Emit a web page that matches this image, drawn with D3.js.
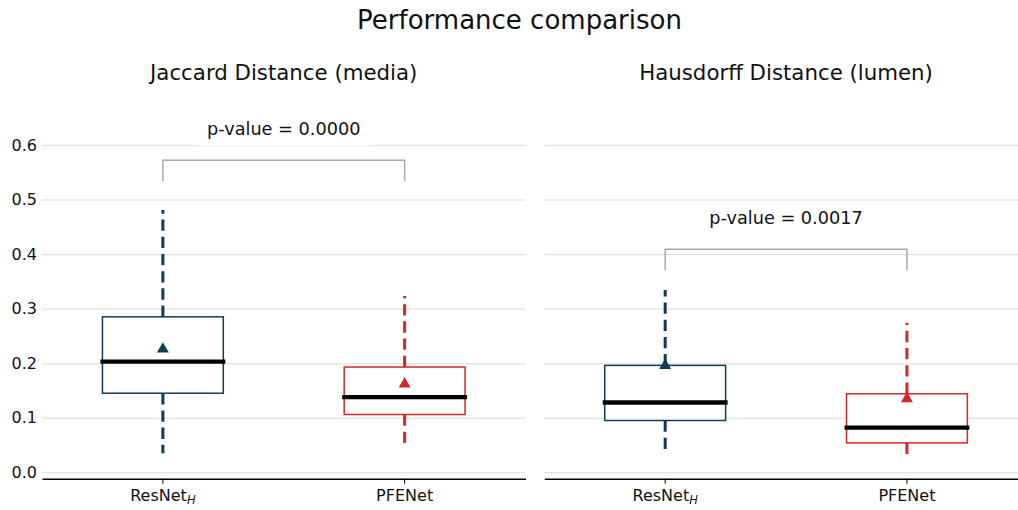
<!DOCTYPE html>
<html>
<head>
<meta charset="utf-8">
<title>Performance comparison</title>
<style>
body { margin: 0; background: #fff; }
text { font-family: "DejaVu Sans", sans-serif; }
.grid line { stroke: #e6e6e6; stroke-width: 1.5; }
.grid path { display: none; }
</style>
</head>
<body>
<script src="https://cdn.jsdelivr.net/npm/d3@7"></script>
<script>

// data
var categories = ["ResNet", "PFENet"];
var catSub = ["H", ""];
var panelTitles = ["Jaccard Distance (media)", "Hausdorff Distance (lumen)"];
var pValues = ["0.0000", "0.0017"];
var yTicks = [0.0, 0.1, 0.2, 0.3, 0.4, 0.5, 0.6];
var colors = ["#0e3b56", "#d62728"];

var jaccardLow = [0.035, 0.053];
var jaccardQ1 = [0.145, 0.106];
var jaccardMedian = [0.203, 0.138];
var jaccardQ3 = [0.285, 0.193];
var jaccardHigh = [0.481, 0.323];
var jaccardMean = [0.229, 0.165];

var hausdorffLow = [0.041, 0.033];
var hausdorffQ1 = [0.095, 0.054];
var hausdorffMedian = [0.128, 0.082];
var hausdorffQ3 = [0.196, 0.144];
var hausdorffHigh = [0.334, 0.274];
var hausdorffMean = [0.199, 0.138];

var bracketLevels = [0.572, 0.409]; // y of the significance bracket

function makeBoxes(low, q1, med, q3, high, mean) {
  return categories.map(function(c, i) {
    return {cat: c, low: low[i], q1: q1[i], med: med[i], q3: q3[i], high: high[i], mean: mean[i], color: colors[i]};
  });
}
var panels = [
  makeBoxes(jaccardLow, jaccardQ1, jaccardMedian, jaccardQ3, jaccardHigh, jaccardMean),
  makeBoxes(hausdorffLow, hausdorffQ1, hausdorffMedian, hausdorffQ3, hausdorffHigh, hausdorffMean)
];

var w = 1018, h = 510;
var panelX = [42, 544.3]; // left edge of each axes
var pw = 483.5;           // axes width

var y = d3.scaleLinear().domain([-0.0117, 0.6]).range([478.7, 145]);

var svg = d3.select("body").append("svg").attr("width", w).attr("height", h);

svg.append("text")
  .attr("x", 519.5).attr("y", 28.5)
  .attr("text-anchor", "middle")
  .attr("font-size", "26px")
  .attr("fill", "#111")
  .text("Performance comparison");

panels.forEach(function(boxes, p) {
  var g = svg.append("g").attr("transform", "translate(" + panelX[p] + ",0)");
  var x = d3.scaleBand().domain(categories).range([0, pw]).paddingInner(0).paddingOuter(0);
  var bw = x.bandwidth() * 0.5;
  var cx = function(d) { return x(d) + x.bandwidth() / 2; };

  // panel title
  g.append("text")
    .attr("x", pw / 2).attr("y", 80)
    .attr("text-anchor", "middle")
    .attr("font-size", "21.3px")
    .attr("fill", "#111")
    .text(panelTitles[p]);

  // horizontal grid
  g.append("g").attr("class", "grid")
    .call(d3.axisLeft(y).tickValues(yTicks).tickSize(-pw).tickFormat(""));

  // y labels only on the first panel
  if (p == 0) {
    var ya = g.append("g")
      .call(d3.axisLeft(y).tickValues(yTicks).tickSize(0).tickPadding(5).tickFormat(d3.format(".1f")));
    ya.select(".domain").remove();
    ya.selectAll("text").attr("font-size", "16px").attr("fill", "#111").attr("font-family", "DejaVu Sans");
  }

  // bottom axis
  var xa = g.append("g").attr("transform", "translate(0," + y.range()[0] + ")")
    .call(d3.axisBottom(x).tickSizeInner(5).tickSizeOuter(0).tickPadding(6));
  xa.select(".domain").attr("stroke", "#000").attr("stroke-width", 1.5);
  xa.selectAll(".tick line").attr("stroke", "#000").attr("stroke-width", 1);
  xa.selectAll("text").attr("font-size", "16px").attr("fill", "#111").attr("font-family", "DejaVu Sans")
    .each(function(d, i) {
      var t = d3.select(this);
      t.text(null);
      t.append("tspan").text(d);
      if (catSub[i]) {
        t.append("tspan").attr("font-size", "11.5px").attr("font-style", "italic").attr("dy", "0.3em").text(catSub[i]);
      }
    });

  // p-value bracket and label
  var by = y(bracketLevels[p]);
  var x0 = cx(categories[0]), x1 = cx(categories[1]);
  var label = g.append("text")
    .attr("x", (x0 + x1) / 2).attr("y", by - 24.8)
    .attr("text-anchor", "middle")
    .attr("font-size", "17.7px")
    .attr("fill", "#111")
    .text("p-value = " + pValues[p]);
  var bb = label.node().getBBox();
  g.insert("rect", function() { return label.node(); })
    .attr("x", bb.x - 8).attr("y", bb.y - 6)
    .attr("width", bb.width + 16).attr("height", bb.height + 12)
    .attr("fill", "#fff");
  g.append("path")
    .attr("d", "M" + x0 + "," + (by + 21) + "V" + by + "H" + x1 + "V" + (by + 21))
    .attr("fill", "none").attr("stroke", "#aaaaaa").attr("stroke-width", 1.5);

  // boxes
  var bx = g.selectAll("g.box").data(boxes).enter().append("g").attr("class", "box");
  bx.append("line")
    .attr("x1", function(d) { return cx(d.cat); }).attr("x2", function(d) { return cx(d.cat); })
    .attr("y1", function(d) { return y(d.q3); }).attr("y2", function(d) { return y(d.high); })
    .attr("stroke", function(d) { return d.color; }).attr("stroke-width", 3).attr("stroke-dasharray", "11.3,5.9");
  bx.append("line")
    .attr("x1", function(d) { return cx(d.cat); }).attr("x2", function(d) { return cx(d.cat); })
    .attr("y1", function(d) { return y(d.q1); }).attr("y2", function(d) { return y(d.low); })
    .attr("stroke", function(d) { return d.color; }).attr("stroke-width", 3).attr("stroke-dasharray", "11.3,5.9");
  bx.append("rect")
    .attr("x", function(d) { return cx(d.cat) - bw / 2; })
    .attr("y", function(d) { return y(d.q3); })
    .attr("width", bw)
    .attr("height", function(d) { return y(d.q1) - y(d.q3); })
    .attr("fill", "#fff")
    .attr("stroke", function(d) { return d.color; }).attr("stroke-width", 1.5);
  bx.append("line")
    .attr("x1", function(d) { return cx(d.cat) - bw / 2 - 2; })
    .attr("x2", function(d) { return cx(d.cat) + bw / 2 + 2; })
    .attr("y1", function(d) { return y(d.med); }).attr("y2", function(d) { return y(d.med); })
    .attr("stroke", "#000").attr("stroke-width", 4.3);
  // mean marker, bbox centred on the mean
  var tri = d3.symbol().type(d3.symbolTriangle).size(62);
  var ty = Math.sqrt(62 / (Math.sqrt(3) * 3));
  bx.append("path")
    .attr("d", tri)
    .attr("transform", function(d) { return "translate(" + cx(d.cat) + "," + (y(d.mean) + ty / 2) + ")"; })
    .attr("fill", function(d) { return d.color; });
});

</script>
</body>
</html>
